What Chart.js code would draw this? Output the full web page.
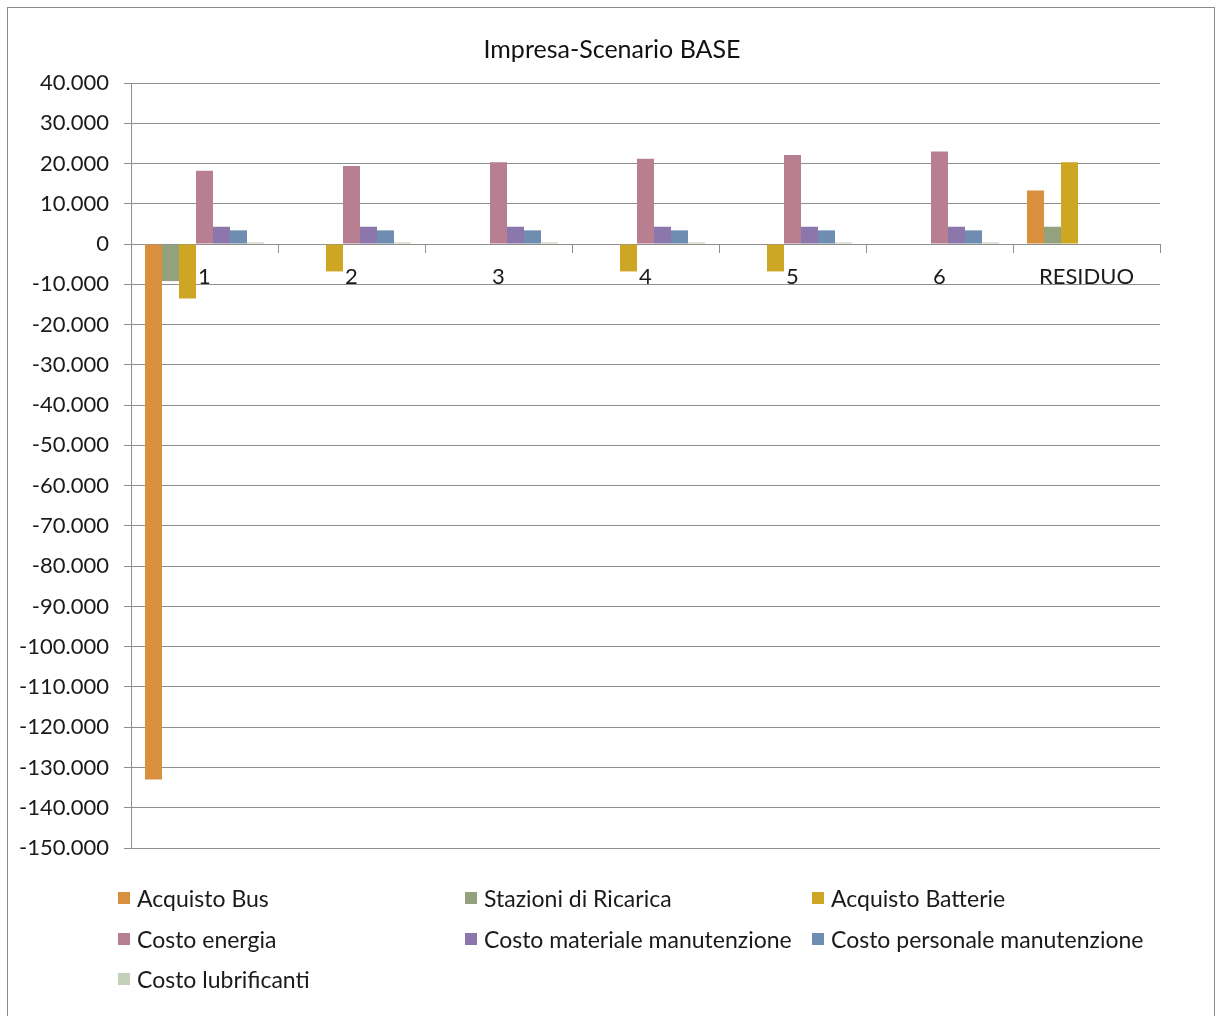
<!DOCTYPE html>
<html lang="it">
<head>
<meta charset="utf-8">
<title>Impresa-Scenario BASE</title>
<script src="https://cdn.jsdelivr.net/npm/chart.js@4.4.1/dist/chart.umd.min.js"></script>
<style>
  html, body { margin: 0; padding: 0; background: #ffffff; }
  body { width: 1221px; height: 1016px; position: relative; overflow: hidden; font-family: Lato, "Open Sans", sans-serif; }
  #frame { position: absolute; left: 7px; top: 7px; width: 1208px; height: 1100px; border: 1px solid #8a8a8a; box-sizing: border-box; }
  #wrap { position: absolute; left: 0; top: 0; width: 1221px; height: 1016px; }
  #legend { position: absolute; left: 118px; top: 878px; display: grid; grid-template-columns: 347px 347px 347px; grid-auto-rows: 40.5px; font-size: 23px; color: #1a1a1a; }
  .item { display: flex; align-items: center; white-space: nowrap; }
  .sw { width: 12px; height: 12px; margin-right: 7px; flex: none; }
</style>
</head>
<body>
<div id="frame"></div>
<div id="wrap"><canvas id="chart" width="1221" height="1016"></canvas></div>
<div id="legend"></div>
<script>
// Categories (years of the plan plus residual value)
const categories = ['1', '2', '3', '4', '5', '6', 'RESIDUO'];

// Cash flows per cost item (euro)
const acquistoBus          = [-133000, 0, 0, 0, 0, 0, 13300];
const stazioniRicarica     = [-9200, 0, 0, 0, 0, 0, 4300];
const acquistoBatterie     = [-13500, -6800, 0, -6800, -6800, 0, 20300];
const costoEnergia         = [18200, 19400, 20300, 21200, 22100, 23000, 0];
const costoMateriale       = [4300, 4300, 4300, 4300, 4300, 4300, 0];
const costoPersonale       = [3400, 3400, 3400, 3400, 3400, 3400, 0];
const costoLubrificanti    = [400, 400, 400, 400, 400, 400, 0];

const seriesNames  = ['Acquisto Bus', 'Stazioni di Ricarica', 'Acquisto Batterie', 'Costo energia',
                      'Costo materiale manutenzione', 'Costo personale manutenzione', 'Costo lubrificanti'];
const seriesData   = [acquistoBus, stazioniRicarica, acquistoBatterie, costoEnergia,
                      costoMateriale, costoPersonale, costoLubrificanti];
const seriesColors = ['#d88f3e', '#93a17d', '#cda623', '#b77f8f', '#8c77ac', '#6e8db0', '#c5d0b9'];

// Y axis range and step
const yMin = -150000;
const yMax = 40000;
const yStep = 10000;

const FONT = 'Lato, "Open Sans", sans-serif';

function formatIt(v) {
  const s = Math.abs(v).toString().replace(/\B(?=(\d{3})+(?!\d))/g, '.');
  return (v < 0 ? '-' : '') + s;
}

const datasets = seriesNames.map((name, i) => ({
  label: name,
  data: seriesData[i],
  backgroundColor: seriesColors[i],
  borderWidth: 0,
  categoryPercentage: 0.81,
  barPercentage: 1.0
}));

new Chart(document.getElementById('chart'), {
  type: 'bar',
  data: { labels: categories, datasets },
  options: {
    responsive: false,
    animation: false,
    layout: { padding: { left: 8, top: 8, right: 5, bottom: 168 } },
    plugins: {
      legend: { display: false },
      tooltip: { enabled: false },
      title: {
        display: true,
        text: 'Impresa-Scenario BASE',
        color: '#111111',
        font: { family: FONT, size: 25, weight: 'normal', lineHeight: 1.2 },
        padding: { top: 27, bottom: 18 }
      }
    },
    scales: {
      x: {
        position: { y: 0 },
        grid: { drawOnChartArea: false, drawTicks: true, tickLength: 8, offset: true, color: '#8e8e8e' },
        border: { display: true, color: '#8e8e8e', width: 1 },
        ticks: { color: '#1a1a1a', font: { family: FONT, size: 22 }, padding: 12, maxRotation: 0 }
      },
      y: {
        min: yMin,
        max: yMax,
        afterFit: (scale) => { scale.width = 123; },
        grid: { color: '#8e8e8e', lineWidth: 1, tickLength: 7 },
        border: { display: true, color: '#8e8e8e', width: 1 },
        ticks: {
          stepSize: yStep,
          color: '#1a1a1a',
          font: { family: FONT, size: 22 },
          padding: 15,
          callback: (v) => formatIt(v)
        }
      },
      // empty right-hand margin of the plot area
      spacer: {
        type: 'linear',
        position: 'right',
        afterFit: (scale) => { scale.width = 56; },
        grid: { display: false },
        border: { display: false },
        ticks: { display: false }
      }
    }
  }
});

// Legend in three columns
const legendEl = document.getElementById('legend');
seriesNames.forEach((name, i) => {
  const item = document.createElement('div');
  item.className = 'item';
  const sw = document.createElement('span');
  sw.className = 'sw';
  sw.style.background = seriesColors[i];
  const tx = document.createElement('span');
  tx.textContent = name;
  item.appendChild(sw);
  item.appendChild(tx);
  legendEl.appendChild(item);
});
</script>
</body>
</html>
